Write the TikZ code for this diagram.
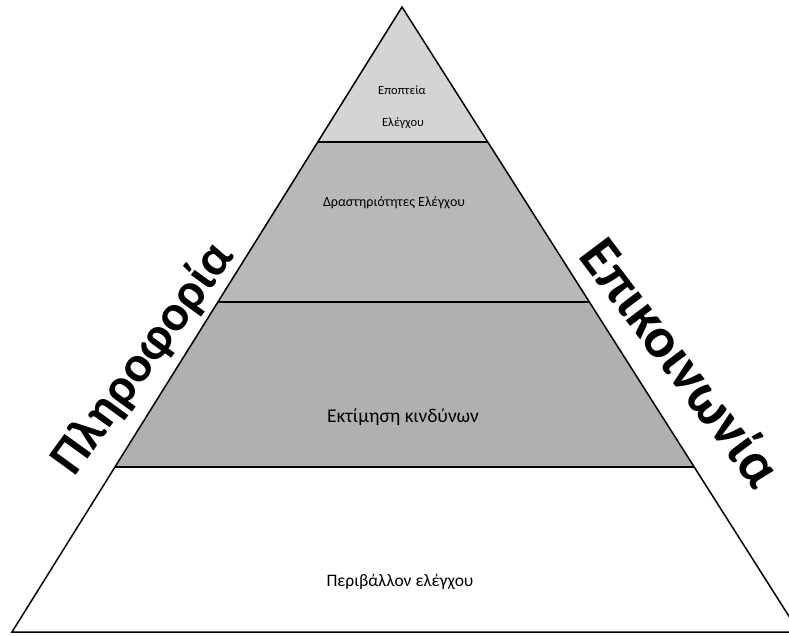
\documentclass[tikz,border=0pt]{standalone}
\usepackage{fontspec}
\setmainfont{Carlito}
\usetikzlibrary{calc,positioning}

\tikzset{
  band/.style={font=\fontsize{#1}{#1}\selectfont,inner sep=0pt},
  side/.style={font=\fontsize{#1}{#1}\selectfont\bfseries,inner sep=0pt,anchor=base}
}

\begin{document}
\begin{tikzpicture}[x=1pt,y=-1pt]
      \clip (0,0) rectangle (789,635);
      \fill[white] (0,0) rectangle (789,635);

      \coordinate (a) at (402,7);
      \coordinate (l) at (12,632);
      \coordinate (r) at (799,632);

      % band edges
      \coordinate (l1) at ($(a)!0.216!(l)$);
      \coordinate (r1) at ($(a)!0.216!(r)$);
      \coordinate (l2) at ($(a)!0.472!(l)$);
      \coordinate (r2) at ($(a)!0.472!(r)$);
      \coordinate (l3) at ($(a)!0.736!(l)$);
      \coordinate (r3) at ($(a)!0.736!(r)$);

      \fill[black!17] (a) -- (r1) -- (l1) -- cycle;
      \fill[black!28] (l1) -- (r1) -- (r2) -- (l2) -- cycle;
      \fill[black!31] (l2) -- (r2) -- (r3) -- (l3) -- cycle;

      \draw[line width=1.5pt] (l1) -- (r1);
      \draw[line width=1.5pt] (l2) -- (r2);
      \draw[line width=1.5pt] (l3) -- (r3);
      \draw[line width=1.5pt] (a) -- (l) -- (r) -- cycle;

      \node[band=12.5] (epo) at (402,90) {Εποπτεία};
      \node[band=12.5] (ele) at (403,123) {Ελέγχου};
      \node[band=14] (dra) at (394,203) {Δραστηριότητες Ελέγχου};
      \node[band=19.5] (ekt) at (403,417) {Εκτίμηση κινδύνων};
      \node[band=17.5] (per) at (400,582) {Περιβάλλον ελέγχου};

      \node[side=51,rotate=54] (pli) at (155,367) {Πληροφορία};
      \node[side=57,rotate=-53] (epi) at (666,374) {Επικοινωνία};

    \end{tikzpicture}
\end{document}
